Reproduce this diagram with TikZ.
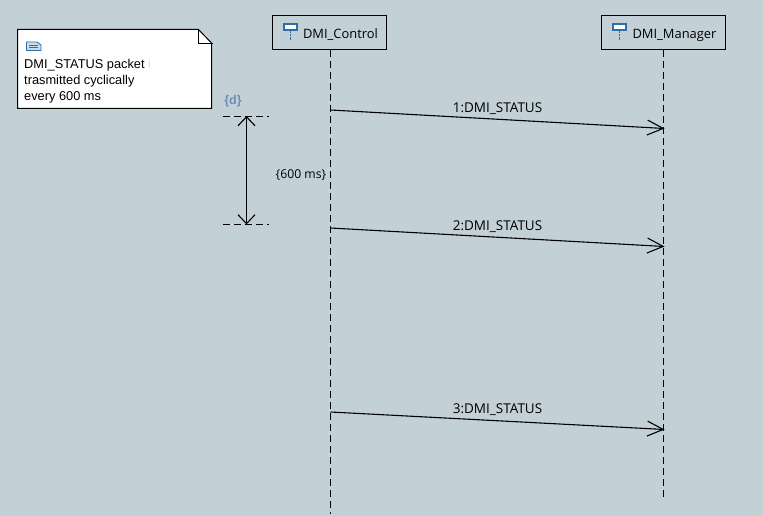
\documentclass[tikz,border=0pt]{standalone}
\usepackage{fontspec}
\setmainfont{Liberation Sans}
\newfontfamily\headfont{Open Sans}
\usetikzlibrary{arrows.meta, positioning}
\definecolor{canvas}{HTML}{C3D1D6}
\definecolor{iconblue}{HTML}{2F6FA8}
\definecolor{tagblue}{HTML}{6F8DB8}

\begin{document}
\begin{tikzpicture}[
  x=1pt, y=-1pt,
  head/.style={draw, line width=1pt, rectangle, minimum height=34pt, inner sep=0pt, font=\headfont\fontsize{12.9}{14}\selectfont},
  lifeline/.style={dashed, dash pattern=on 7pt off 4pt, line width=1pt},
  message/.style={-{Straight Barb[length=16pt, width=15pt]}, line width=1.1pt},
  msglabel/.style={font=\headfont\fontsize{13.5}{14}\selectfont, yshift=1pt},
  span/.style={{Straight Barb[length=9pt, width=17pt]}-{Straight Barb[length=9pt, width=17pt]}, line width=1.1pt},
  spanmark/.style={dashed, dash pattern=on 7pt off 4pt, line width=1pt},
  icon/.style={draw=iconblue, fill=white, line width=1.2pt}
]

% Background
\fill[canvas] (0,0) rectangle (763,516);
\useasboundingbox (0,0) rectangle (763,516);

% Nodes
\node[head, minimum width=114pt] (control) at (329.5,32.5) {\hspace*{22pt}\raisebox{-6pt}[0pt][0pt]{DMI\_Control}};
\node[head, minimum width=124pt] (manager) at (663.5,32.5) {\hspace*{22pt}\raisebox{-6pt}[0pt][0pt]{DMI\_Manager}};

\coordinate (controlend) at (330.5,514);
\coordinate (managerend) at (663.5,500);

% Lifelines
\draw[lifeline] (330.5,50) -- (controlend);
\draw[lifeline] (663.5,50) -- (managerend);

% Head icons
\draw[icon] (284,24) rectangle (297,30);
\draw[iconblue, densely dotted] (290.5,31) -- (290.5,40);
\draw[icon] (613,24) rectangle (626,30);
\draw[iconblue, densely dotted] (619.5,31) -- (619.5,40);

% Note
\draw[fill=white, line width=1pt] (17.5,29.5) -- (198.5,29.5) -- (211.5,43) -- (211.5,108.5) -- (17.5,108.5) -- cycle;
\draw[line width=1pt] (198.5,29.5) -- (198.5,43.5) -- (213,43.5);
\draw[draw=iconblue, fill=iconblue!25, line width=0.9pt] (26.5,42) -- (37,42) -- (41,45) -- (41,50.5) -- (26.5,50.5) -- cycle;
\draw[iconblue, line width=0.7pt] (29,45) -- (38,45) (29,47.5) -- (38,47.5);
\node[anchor=north west, align=left, inner sep=0pt, font=\fontsize{12.8}{16}\selectfont] (notetext) at (24,59)
  {DMI\_STATUS packet {\color{black!12}i}\\trasmitted cyclically\\every 600 ms};

% Duration
\node[font=\bfseries\fontsize{12.5}{14}\selectfont, text=tagblue, inner sep=0pt] (dtag) at (233,101) {\{d\}};
\coordinate (spantop) at (246.5,116);
\coordinate (spanbot) at (246.5,224.5);
\draw[spanmark] (223,116.5) -- (269,116.5);
\draw[spanmark] (223,224.5) -- (269,224.5);
\draw[span] (spantop) -- (spanbot);
\node[font=\headfont\fontsize{12.2}{14}\selectfont, inner sep=0pt] (spanlabel) at (301,175.5) {\{600 ms\}};

% Arrows
\coordinate (c1) at (330.5,110);
\coordinate (m1) at (664.5,128.5);
\coordinate (c2) at (330.5,228);
\coordinate (m2) at (664.5,246.5);
\coordinate (c3) at (330.5,412);
\coordinate (m3) at (664.5,429.5);

\draw[message] (c1) -- node[midway, above, msglabel] (label1) {1:DMI\_STATUS} (m1);
\draw[message] (c2) -- node[midway, above, msglabel] (label2) {2:DMI\_STATUS} (m2);
\draw[message] (c3) -- node[midway, above, msglabel] (label3) {3:DMI\_STATUS} (m3);

\end{tikzpicture}
\end{document}
